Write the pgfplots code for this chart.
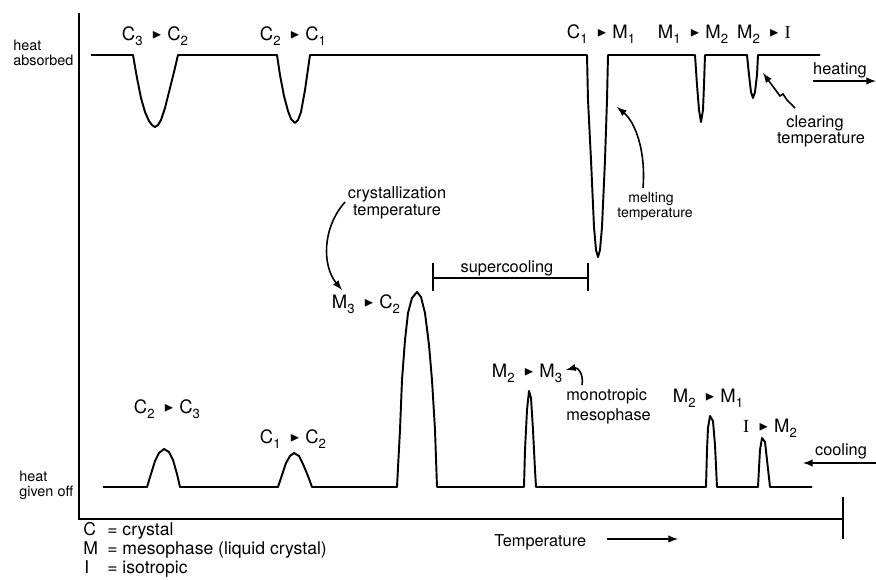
\documentclass[border=0pt]{standalone}
\usepackage{pgfplots}
\pgfplotsset{compat=1.18}
\usepackage{fontspec}
\setmainfont{TeX Gyre Heros}
\newfontfamily\serifI{Liberation Serif}
\usepackage{amssymb}
\usepackage{graphicx}
\newcommand\sub[1]{\raisebox{-0.6ex}{\fontsize{7.5}{8}\selectfont #1}}
\newcommand\tri{\hspace{0.5em}\raisebox{0.15ex}{\scalebox{0.7}{$\blacktriangleright$}}\hspace{0.3em}}
\newcommand\lab{\fontsize{10.5}{12}\selectfont}
\newcommand\txt{\fontsize{9.3}{10}\selectfont}
\begin{document}
\begin{tikzpicture}
\begin{axis}[x=0.02cm, y=0.02cm, xmin=0, xmax=876, ymin=0, ymax=579,
  y dir=reverse, hide axis, clip=false]
% heating trace (pixel coordinates, y measured from top)
\addplot[black, line width=1.1pt, line join=round] coordinates {
(91,55) (133,55) (137,78) (141,98) (145,112) (149,121) (152,125) (155,127) (158,125) (161,120) (165,108) (169,92) (174,72) (178,55)
(277,55) (280,75) (284,96) (288,111) (291,119) (295,123) (298,120) (301,112) (305,90) (310,55)
(587,55) (588,100) (591,160) (594,227) (596,250) (598,257) (600,250) (602,227) (605,160) (607,100) (608,55)
(695,55) (697,85) (699,110) (701,122) (703,110) (704,85) (705,55)
(747,55) (749,75) (751,92) (753,98) (755,92) (757,75) (758,55)
(820,55)};
% cooling trace
\addplot[black, line width=1.1pt, line join=round] coordinates {
(103,487) (147,487) (151,474) (155,461) (159,453) (164,449) (169,452) (173,460) (177,474) (180,487)
(278,487) (282,475) (286,463) (290,456) (294,453) (299,456) (303,464) (308,476) (312,487)
(397,487) (400,430) (402,380) (405,340) (408,313) (412,298) (417,292) (421,297) (425,313) (429,345) (432,380) (435,430) (437,487)
(524,487) (525,450) (527,410) (529,391) (531,398) (533,430) (535,470) (536,487)
(706,487) (707,450) (708,428) (710,416) (713,421) (715,445) (717,487)
(758,487) (759,468) (760,450) (762,438) (765,442) (767,460) (770,487)
(812,487)};
% frame
\draw[line width=1pt] (axis cs:79,13) -- (axis cs:79,519) -- (axis cs:843,519);
\draw[line width=1pt] (axis cs:843,497) -- (axis cs:843,539);
% supercooling bracket
\draw[line width=0.9pt] (axis cs:433,263) -- (axis cs:433,291);
\draw[line width=0.9pt] (axis cs:588,263) -- (axis cs:588,291);
\draw[line width=0.9pt] (axis cs:433,278) -- (axis cs:588,278);
\node[anchor=base] at (axis cs:507,272) {\txt supercooling};
% side labels
\node[anchor=base west, inner sep=0] at (axis cs:13,50) {\fontsize{8.2}{9}\selectfont heat};
\node[anchor=base west, inner sep=0] at (axis cs:13,65) {\fontsize{8.2}{9}\selectfont absorbed};
\node[anchor=base west, inner sep=0] at (axis cs:19,481) {\fontsize{8.2}{9}\selectfont heat};
\node[anchor=base west, inner sep=0] at (axis cs:19,496) {\fontsize{8.2}{9}\selectfont given off};
% transition labels (top)
\node[anchor=base, inner sep=0] at (axis cs:155,40) {\lab C\sub{3}\tri C\sub{2}};
\node[anchor=base, inner sep=0] at (axis cs:293,40) {\lab C\sub{2}\tri C\sub{1}};
\node[anchor=base, inner sep=0] at (axis cs:601,38) {\lab C\sub{1}\tri M\sub{1}};
\node[anchor=base, inner sep=0] at (axis cs:693,38) {\lab M\sub{1}\tri M\sub{2}};
\node[anchor=base, inner sep=0] at (axis cs:764,38) {\lab M\sub{2}\tri{\serifI I}};
% transition labels (bottom)
\node[anchor=base, inner sep=0] at (axis cs:167,413) {\lab C\sub{2}\tri C\sub{3}};
\node[anchor=base, inner sep=0] at (axis cs:293,443) {\lab C\sub{1}\tri C\sub{2}};
\node[anchor=base, inner sep=0] at (axis cs:366,308) {\lab M\sub{3}\tri C\sub{2}};
\node[anchor=base, inner sep=0] at (axis cs:527,377) {\lab M\sub{2}\tri M\sub{3}};
\node[anchor=base, inner sep=0] at (axis cs:708,402) {\lab M\sub{2}\tri M\sub{1}};
\node[anchor=base, inner sep=0] at (axis cs:770,432) {\lab{\serifI I}\tri M\sub{2}};
% heating / cooling
\node[anchor=base, inner sep=0] at (axis cs:840,74) {\txt heating};
\draw[line width=0.9pt, -latex] (axis cs:813,81) -- (axis cs:876,81);
\node[anchor=base, inner sep=0] at (axis cs:841,455) {\txt cooling};
\draw[line width=0.9pt, -latex] (axis cs:876,463) -- (axis cs:803,463);
% clearing temperature
\node[anchor=base, inner sep=0] at (axis cs:815,127) {\txt clearing};
\node[anchor=base, inner sep=0] at (axis cs:821,143) {\txt temperature};
\draw[line width=0.9pt, -latex] (axis cs:795,108) -- (axis cs:787,100) -- (axis cs:783,94) -- (axis cs:780,96) -- (axis cs:763,73);
% melting temperature
\node[anchor=base, inner sep=0] at (axis cs:651,202) {\fontsize{8}{9}\selectfont melting};
\node[anchor=base, inner sep=0] at (axis cs:655,217) {\fontsize{8}{9}\selectfont temperature};
\draw[line width=0.9pt, -latex] (axis cs:643,188) .. controls (axis cs:646,150) and (axis cs:635,122) .. (axis cs:617,107);
% crystallization temperature
\node[anchor=base, inner sep=0] at (axis cs:397,198) {\txt crystallization};
\node[anchor=base, inner sep=0] at (axis cs:397,215) {\txt temperature};
\draw[line width=0.9pt, -latex] (axis cs:345,202) .. controls (axis cs:322,228) and (axis cs:322,266) .. (axis cs:342,290);
% monotropic mesophase
\node[anchor=base west, inner sep=0] at (axis cs:566,400) {\txt monotropic};
\node[anchor=base west, inner sep=0] at (axis cs:566,420) {\txt mesophase};
\draw[line width=0.9pt, -latex] (axis cs:582,385) .. controls (axis cs:584,373) and (axis cs:577,367) .. (axis cs:566,370);
% temperature axis label
\node[anchor=base west, inner sep=0] at (axis cs:494,546) {\txt Temperature};
\draw[line width=0.9pt, -latex] (axis cs:607,539) -- (axis cs:678,539);
% key
\node[anchor=base west, inner sep=0] at (axis cs:83,535) {\fontsize{10}{11}\selectfont C};
\node[anchor=base west, inner sep=0] at (axis cs:107,535) {\fontsize{10}{11}\selectfont = crystal};
\node[anchor=base west, inner sep=0] at (axis cs:83,554) {\fontsize{10}{11}\selectfont M};
\node[anchor=base west, inner sep=0] at (axis cs:107,554) {\fontsize{10}{11}\selectfont = mesophase (liquid crystal)};
\node[anchor=base west, inner sep=0] at (axis cs:84,573) {\fontsize{10}{11}\selectfont I};
\node[anchor=base west, inner sep=0] at (axis cs:107,573) {\fontsize{10}{11}\selectfont = isotropic};
\coordinate (BL) at (axis cs:0,579);
\coordinate (TR) at (axis cs:876,0);
\end{axis}
\pgfresetboundingbox
\useasboundingbox (BL) rectangle (TR);
\end{tikzpicture}
\end{document}
